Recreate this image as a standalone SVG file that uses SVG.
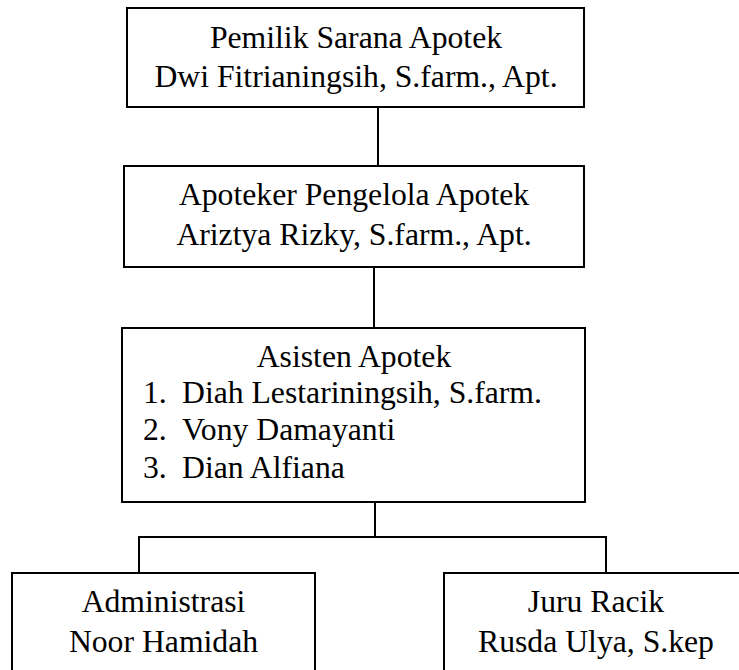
<svg xmlns="http://www.w3.org/2000/svg" width="739" height="670" viewBox="0 0 739 670">
<style>
.box{fill:#fff;stroke:#000;stroke-width:2}
.ln{fill:none;stroke:#000;stroke-width:2}
text{font-family:"Liberation Serif","Times New Roman",serif;font-size:31.7px;fill:#000}
.c{text-anchor:middle}
</style>
<rect width="739" height="670" fill="#fff"/>
<g id="connectors">
<line class="ln" x1="378" y1="107" x2="378" y2="166"/>
<line class="ln" x1="374" y1="267" x2="374" y2="328"/>
<polyline class="ln" points="375,502 375,537 139,537 139,573"/>
<polyline class="ln" points="375,537 606,537 606,573"/>
</g>
<g id="pemilik">
<rect class="box" x="127" y="8" width="457" height="99"/>
<text class="c" x="356" y="48">Pemilik Sarana Apotek</text>
<text class="c" x="356" y="87">Dwi Fitrianingsih, S.farm., Apt.</text>
</g>
<g id="apoteker">
<rect class="box" x="124" y="166" width="460" height="101"/>
<text class="c" x="354" y="205">Apoteker Pengelola Apotek</text>
<text class="c" x="354" y="245">Ariztya Rizky, S.farm., Apt.</text>
</g>
<g id="asisten">
<rect class="box" x="122" y="328" width="463" height="174"/>
<text class="c" x="354" y="367">Asisten Apotek</text>
<text x="143" y="403">1.</text><text x="182" y="403">Diah Lestariningsih, S.farm.</text>
<text x="143" y="440">2.</text><text x="182" y="440">Vony Damayanti</text>
<text x="143" y="478">3.</text><text x="182" y="478">Dian Alfiana</text>
</g>
<g id="administrasi">
<rect class="box" x="12" y="573" width="303" height="110"/>
<text class="c" x="163.5" y="612">Administrasi</text>
<text class="c" x="163.5" y="652">Noor Hamidah</text>
</g>
<g id="juru-racik">
<rect class="box" x="444" y="573" width="304" height="110"/>
<text class="c" x="596" y="612">Juru Racik</text>
<text class="c" x="596" y="652">Rusda Ulya, S.kep</text>
</g>
</svg>
